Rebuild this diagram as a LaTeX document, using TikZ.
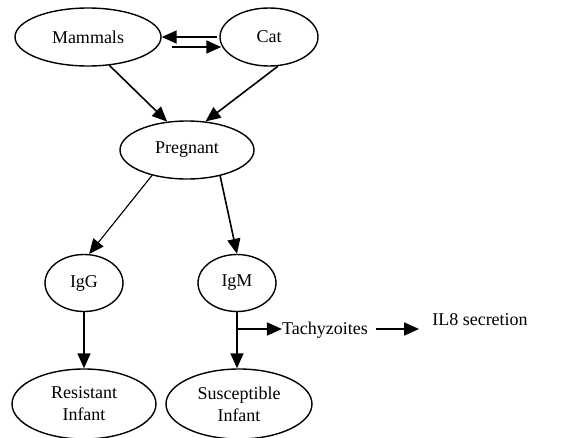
\documentclass[tikz,border=0pt]{standalone}
\usepackage{fontspec}
\setmainfont{Liberation Serif}
\usetikzlibrary{shapes.geometric,arrows.meta}
\begin{document}
\begin{tikzpicture}[x=1pt,y=-1pt,
  font=\fontsize{18}{22}\selectfont,
  oval/.style={draw,ellipse,line width=1.4pt,inner sep=0pt,align=center},
  arr/.style={line width=1.6pt,-{Triangle[length=15pt,width=13pt]}},
  thinarr/.style={arr,line width=1.1pt}]
\useasboundingbox (0,0) rectangle (576,437);
\node[oval,minimum width=146pt,minimum height=58pt](mammals) at (88,37) {Mammals};
\node[oval,minimum width=98pt,minimum height=58pt](cat) at (269,37) {Cat};
\node[oval,minimum width=134pt,minimum height=58pt](pregnant) at (187,150) {Pregnant};
\node[oval,minimum width=78pt,minimum height=57pt](igg) at (84,283) {IgG};
\node[oval,minimum width=78pt,minimum height=57pt](igm) at (237,283) {IgM};
\node[oval,minimum width=144pt,minimum height=70pt](resistant) at (84,404) {Resistant\\Infant};
\node[oval,minimum width=146pt,minimum height=70pt](susceptible) at (239,404) {Susceptible\\Infant};
\node[inner sep=0pt](tachy) at (325,330) {Tachyzoites};
\node[inner sep=0pt](il8) at (480,320) {IL8 secretion};
\coordinate (branch) at (237,329);
\draw[arr] ([xshift=-2pt]cat.west) -- (mammals.east);
\draw[arr] ([xshift=10pt,yshift=-10pt]mammals.east) -- ([xshift=2pt,yshift=-10pt]mammals.east -| cat.west);
\draw[arr] (mammals.-53) -- (pregnant.125);
\draw[arr] (cat.-73) -- (pregnant.57);
\draw[thinarr] (pregnant.-144) -- (igg.80);
\draw[arr] (pregnant.-38) -- (igm.north);
\draw[arr] (igg.south) -- (resistant.north);
\draw[arr] (igm.south) -- (igm.south |- susceptible.north);
\draw[arr] (branch) -- (branch -| tachy.west);
\draw[arr,shorten <=8pt,shorten >=13pt] (branch -| tachy.east) -- (branch -| il8.west);
\end{tikzpicture}
\end{document}
